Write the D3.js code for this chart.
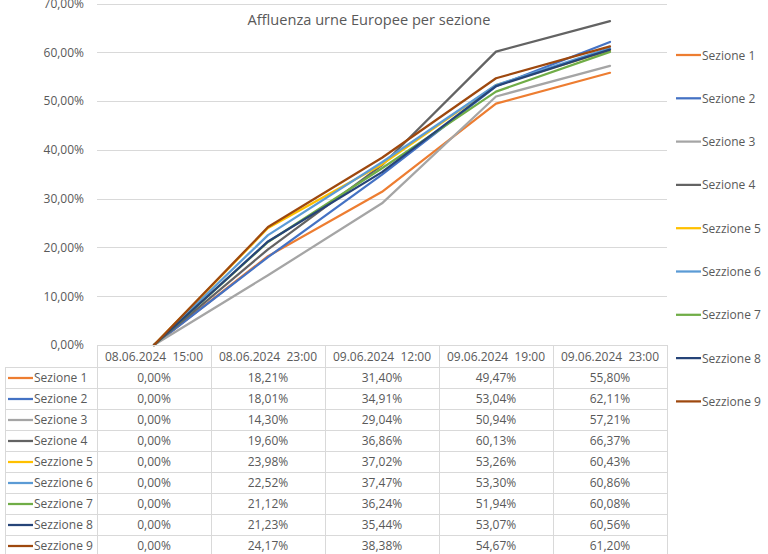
<!DOCTYPE html>
<html><head><meta charset="utf-8">
<script src="https://cdn.jsdelivr.net/npm/d3@7"></script>
<style>body{margin:0;background:#fff;} svg{display:block;font-family:"Open Sans",sans-serif;} text{white-space:pre;}</style>
</head><body>
<script>
const title = "Affluenza urne Europee per sezione";
const categories = ["08.06.2024  15:00","08.06.2024  23:00","09.06.2024  12:00","09.06.2024  19:00","09.06.2024  23:00"];
const seriesNames = ["Sezione 1","Sezione 2","Sezione 3","Sezione 4","Sezzione 5","Sezzione 6","Sezzione 7","Sezzione 8","Sezzione 9"];
const s1 = [0, 0.1821, 0.3140, 0.4947, 0.5580];
const s2 = [0, 0.1801, 0.3491, 0.5304, 0.6211];
const s3 = [0, 0.1430, 0.2904, 0.5094, 0.5721];
const s4 = [0, 0.1960, 0.3686, 0.6013, 0.6637];
const s5 = [0, 0.2398, 0.3702, 0.5326, 0.6043];
const s6 = [0, 0.2252, 0.3747, 0.5330, 0.6086];
const s7 = [0, 0.2112, 0.3624, 0.5194, 0.6008];
const s8 = [0, 0.2123, 0.3544, 0.5307, 0.6056];
const s9 = [0, 0.2417, 0.3838, 0.5467, 0.6120];
const yTicks = [0, 0.1, 0.2, 0.3, 0.4, 0.5, 0.6, 0.7];
const colors = ["#ED7D31","#4472C4","#A5A5A5","#636363","#FFC000","#5B9BD5","#70AD47","#264478","#9E480E"];

const seriesValues = [s1,s2,s3,s4,s5,s6,s7,s8,s9];
const series = seriesNames.map((n,i)=>({name:n, values:seriesValues[i], color:colors[i]}));

const W=768,H=554;
const svg = d3.select("body").append("svg").attr("width",W).attr("height",H);
const it = d3.formatLocale({decimal:",",thousands:".",grouping:[3],currency:["","€"]});
const fmt = it.format(".2%");
const textCol = "#595959", gridCol="#d9d9d9";

const x = d3.scaleBand().domain(categories).range([97,667]).padding(0);
const y = d3.scaleLinear().domain([0,0.7]).range([345,3.5]);

// gridlines
svg.append("g").selectAll("line").data(yTicks.slice(1)).join("line")
  .attr("x1",97).attr("x2",667).attr("y1",d=>Math.round(y(d))+0.5).attr("y2",d=>Math.round(y(d))+0.5)
  .attr("stroke",gridCol).attr("stroke-width",1);

// y axis labels
const yAxis = d3.axisLeft(y).tickValues(yTicks).tickFormat(fmt).tickSize(0).tickPadding(13);
const ga = svg.append("g").attr("transform","translate(97,0)").call(yAxis);
ga.select(".domain").remove();
ga.selectAll("text").attr("fill",textCol).attr("font-size",12).attr("font-family","Open Sans");

// title
svg.append("text").attr("x",369).attr("y",25).attr("text-anchor","middle")
  .attr("font-size",14.6).attr("fill",textCol).text(title);

// lines
const line = d3.line().x((d,i)=>x(categories[i])+x.bandwidth()/2).y(d=>y(d));
svg.append("g").selectAll("path").data(series).join("path")
  .attr("d",d=>line(d.values)).attr("fill","none").attr("stroke",d=>d.color)
  .attr("stroke-width",2.25).attr("stroke-linejoin","round").attr("stroke-linecap","round");

// data table
const rowTop = 345, headH = 22, rowH = 21;
const tbl = svg.append("g");
categories.forEach(c=>{
  tbl.append("rect").attr("x",x(c)+0.5).attr("y",rowTop+0.5).attr("width",x.bandwidth()).attr("height",headH)
    .attr("fill","none").attr("stroke",gridCol);
  tbl.append("text").attr("x",x(c)+x.bandwidth()/2).attr("y",rowTop+headH/2+4.5).attr("text-anchor","middle")
    .attr("font-size",12).attr("fill",textCol).attr("xml:space","preserve").text(c);
});
series.forEach((s,i)=>{
  const top = rowTop+headH+i*rowH;
  tbl.append("rect").attr("x",5.5).attr("y",top+0.5).attr("width",92).attr("height",rowH).attr("fill","none").attr("stroke",gridCol);
  tbl.append("line").attr("x1",8).attr("x2",33).attr("y1",top+rowH/2+0.5).attr("y2",top+rowH/2+0.5).attr("stroke",s.color).attr("stroke-width",2.25);
  tbl.append("text").attr("x",34).attr("y",top+rowH/2+4.5).attr("font-size",12).attr("fill",textCol).text(s.name);
  categories.forEach((c,j)=>{
    tbl.append("rect").attr("x",x(c)+0.5).attr("y",top+0.5).attr("width",x.bandwidth()).attr("height",rowH).attr("fill","none").attr("stroke",gridCol);
    tbl.append("text").attr("x",x(c)+x.bandwidth()/2).attr("y",top+rowH/2+4.5).attr("text-anchor","middle")
      .attr("font-size",12).attr("fill",textCol).text(fmt(s.values[j]));
  });
});

// legend
const lg = svg.append("g");
series.forEach((s,i)=>{
  const cy = 55 + i*43.3;
  lg.append("line").attr("x1",676).attr("x2",701).attr("y1",cy).attr("y2",cy).attr("stroke",s.color).attr("stroke-width",2.25);
  lg.append("text").attr("x",702).attr("y",cy+4.5).attr("font-size",12).attr("fill",textCol).text(s.name);
});
</script>
</body></html>
